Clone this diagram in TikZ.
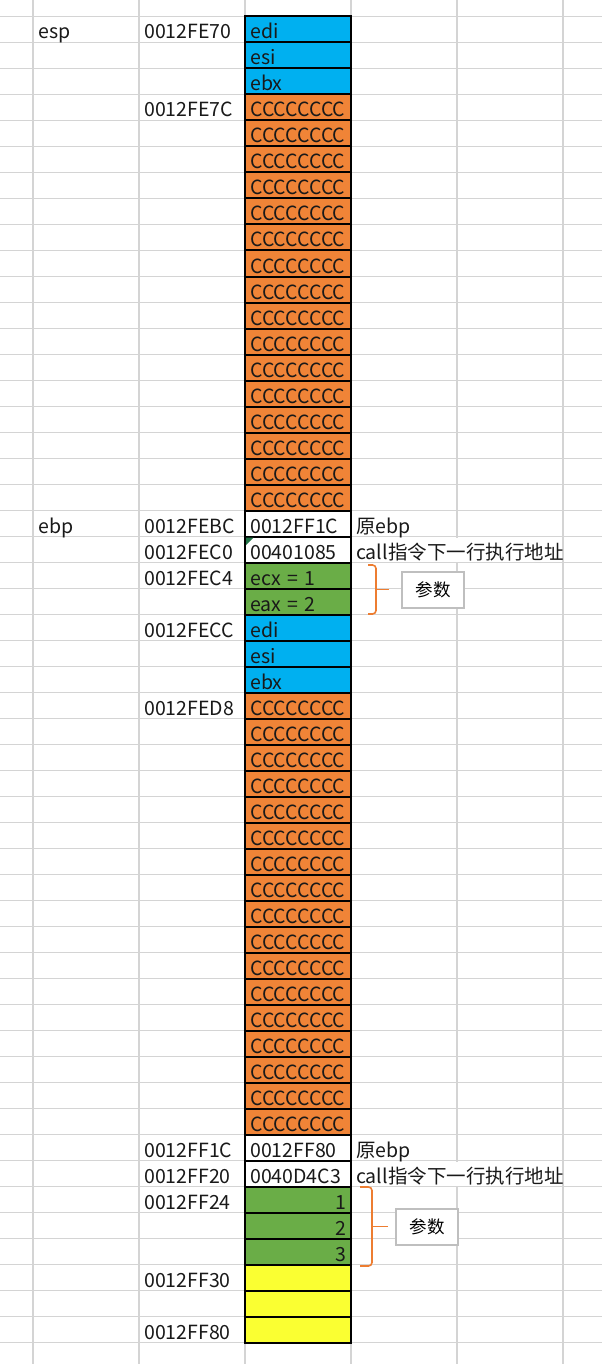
\documentclass[tikz,border=0pt]{standalone}
\usepackage{fontspec}
\setmainfont{Noto Sans CJK SC}
\definecolor{gridc}{HTML}{D4D4D4}
\definecolor{cblue}{HTML}{00B0F0}
\definecolor{corange}{HTML}{F08437}
\definecolor{cgreen}{HTML}{6AAD47}
\definecolor{cyellow}{HTML}{FAFF32}
\definecolor{bracec}{HTML}{ED7D31}
\definecolor{boxc}{HTML}{BFBFBF}
\definecolor{tri}{HTML}{217346}
\begin{document}
\begin{tikzpicture}[x=1pt,y=-1pt,
  gridl/.style={draw=gridc, line width=1.6pt},
  cellbox/.style={draw=black, line width=2pt, minimum width=106pt, minimum height=26pt, inner sep=0pt, outer sep=0pt, anchor=north west},
  txt/.style={anchor=base west, inner sep=0pt, text=black!90, font=\fontsize{19.5}{23}\selectfont},
  txtr/.style={txt, anchor=base east},
  bracel/.style={draw=bracec, line width=1.6pt, rounded corners=3.5pt},
  notebox/.style={draw=boxc, line width=1.2pt, fill=white, minimum width=62pt, minimum height=36pt, inner sep=0pt, font=\fontsize{17.5}{20}\selectfont}]
\useasboundingbox (0,0) rectangle (602,1364);
\fill[white] (0,0) rectangle (602,1364);
% grid
\foreach \k in {0,...,51} \draw[gridl] (0,{16.5+26*\k}) -- (602,{16.5+26*\k});
\foreach \x in {33,139,245,351,457,563} \draw[gridl] (\x,0) -- (\x,1364);
% hide grid line behind overflowing text
\fill[white] (352.5,{16.5+26*20+1}) rectangle (561.5,{16.5+26*21-1});
\fill[white] (352.5,{16.5+26*44+1}) rectangle (561.5,{16.5+26*45-1});
% cells
\foreach \i/\c in {0/cblue,1/cblue,2/cblue,19/white,20/white,21/cgreen,22/cgreen,23/cblue,24/cblue,25/cblue,43/white,44/white,45/cgreen,46/cgreen,47/cgreen,48/cyellow,49/cyellow,50/cyellow}
  \node[cellbox, fill=\c] (c\i) at (245,{16.5+26*\i}) {};
\foreach \i in {3,...,18,26,27,...,42}
  \node[cellbox, fill=corange] (c\i) at (245,{16.5+26*\i}) {};
% green indicator
\fill[tri] (246,537.5) -- (253.5,537.5) -- (246,545) -- cycle;
% cell texts
\foreach \i/\t in {0/edi,1/esi,2/ebx,19/0012FF1C,20/00401085,21/{ecx\kern2pt{} =\kern2pt{} 1},22/{eax\kern2pt{} =\kern2pt{} 2},23/edi,24/esi,25/ebx,43/0012FF80,44/0040D4C3}
  \node[txt] (t\i) at (250,{16.5+26*\i+22.5}) {\t};
\foreach \i in {3,...,18,26,27,...,42}
  \node[txt] (t\i) at (250,{16.5+26*\i+22.5}) {CCCCCCCC};
\foreach \i/\t in {45/1,46/2,47/3}
  \node[txtr] (t\i) at (347,{16.5+26*\i+22.5}) {\t};
% column A
\node[txt] (esp) at (38,{16.5+22.5}) {esp};
\node[txt] (ebp) at (38,{16.5+26*19+22.5}) {ebp};
% column B
\foreach \i/\t in {0/0012FE70,3/0012FE7C,19/0012FEBC,20/0012FEC0,21/0012FEC4,23/0012FECC,26/0012FED8,43/0012FF1C,44/0012FF20,45/0012FF24,48/0012FF30,50/0012FF80}
  \node[txt] (a\i) at (144,{16.5+26*\i+22.5}) {\t};
% column D
\foreach \i/\t in {19/原ebp,20/call指令下一行执行地址,43/原ebp,44/call指令下一行执行地址}
  \node[txt] (d\i) at (356,{16.5+26*\i+22.5}) {\t};
% braces and notes
\coordinate (b1t) at (368,565);
\coordinate (b1m) at (376,589.5);
\coordinate (b1b) at (368,614);
\coordinate (b1k) at (389,589.5);
\draw[bracel] (b1t) -- (376,565) -- (b1m) -- (376,614) -- (b1b);
\draw[draw=bracec, line width=1.6pt] (b1m) -- (b1k);
\node[notebox] (n1) at (433,590) {参数};
\coordinate (b2t) at (360,1187);
\coordinate (b2m) at (372,1226.5);
\coordinate (b2b) at (360,1266);
\coordinate (b2k) at (388,1226.5);
\draw[bracel] (b2t) -- (372,1187) -- (b2m) -- (372,1266) -- (b2b);
\draw[draw=bracec, line width=1.6pt] (b2m) -- (b2k);
\node[notebox] (n2) at (427,1227) {参数};
\end{tikzpicture}
\end{document}
